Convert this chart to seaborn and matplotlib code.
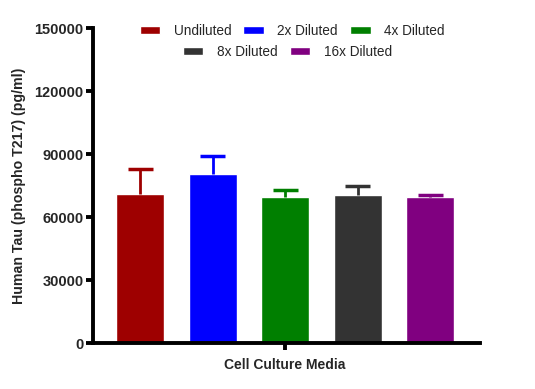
import numpy as np
import pandas as pd
import seaborn as sns
import matplotlib
matplotlib.use('Agg')
import matplotlib.pyplot as plt
from matplotlib.patches import Patch

group = "Cell Culture Media"
dilutions = ["Undiluted", "2x Diluted", "4x Diluted", "8x Diluted", "16x Diluted"]
means = [71000, 80500, 69500, 70500, 69500]
errors = [12000, 8500, 3500, 4300, 1000]
colors = ["#9e0000", "#0000ff", "#007f00", "#333333", "#800080"]

df = pd.DataFrame({"group": group, "dilution": dilutions, "value": means})

sns.set_style("white")
plt.rcParams['font.family'] = ['Liberation Sans', 'DejaVu Sans']

fig = plt.figure(figsize=(5.35, 3.89), dpi=100)
ax = fig.add_axes([0.174, 0.118, 0.723, 0.810])

sns.barplot(data=df, x="group", y="value", hue="dilution", hue_order=dilutions,
            palette=colors, width=0.8, gap=0.34, errorbar=None, legend=False,
            saturation=1, ax=ax)

# one-sided (upper) error bars, drawn from the bar geometry
cap = 0.055
for bar, err, col in zip(ax.patches, errors, colors):
    cx = bar.get_x() + bar.get_width() / 2
    top = bar.get_height()
    ax.vlines(cx, top, top + err, color=col, lw=2, zorder=1)
    ax.hlines(top + err, cx - cap / 2, cx + cap / 2, color=col, lw=2.5, zorder=1)

ax.set_xlim(-0.424, 0.430)
ax.set_ylim(0, 150000)
ax.set_yticks([0, 30000, 60000, 90000, 120000, 150000])
ax.set_xlabel("")
ax.set_ylabel("Human Tau (phospho T217) (pg/ml)", fontsize=10.2, fontweight="bold",
              labelpad=6)

for side in ["top", "right"]:
    ax.spines[side].set_visible(False)
for side in ["left", "bottom"]:
    ax.spines[side].set_linewidth(2.8)
    ax.spines[side].set_color("black")
ax.tick_params(axis="both", direction="out", length=5, width=2.8, color="black",
               labelsize=10.5, pad=2, left=True, bottom=True)
ax.tick_params(axis="x", pad=6)
for lab in ax.get_yticklabels() + ax.get_xticklabels():
    lab.set_fontweight("bold")
ax.get_xticklabels()[0].set_fontsize(10)

handles = [Patch(facecolor=c, label=l) for c, l in zip(colors, dilutions)]
kw = dict(frameon=False, fontsize=9.8, handlelength=1.5, handleheight=0.5,
          handletextpad=1.0, columnspacing=0.9, loc="center",
          bbox_transform=fig.transFigure)
leg1 = ax.legend(handles=handles[:3], ncol=3, bbox_to_anchor=(0.546, 1 - 31 / 389), **kw)
ax.add_artist(leg1)
ax.legend(handles=handles[3:], ncol=2, bbox_to_anchor=(0.537, 1 - 52 / 389), **kw)

fig.savefig("out.png", dpi=100)
